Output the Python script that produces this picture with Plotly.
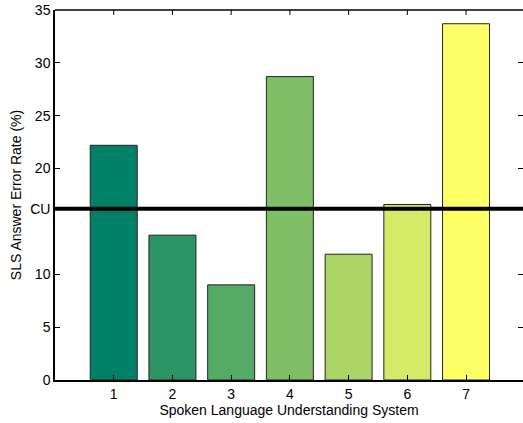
import plotly.graph_objects as go

systems = [1, 2, 3, 4, 5, 6, 7]
error_rates = [22.2, 13.7, 9.0, 28.7, 11.9, 16.6, 33.7]
bar_colors = ["#008066", "#2b9566", "#55aa66", "#80bf66", "#aad566", "#d5ea66", "#ffff66"]
cu_rate = 16.2
ytick_vals = [0, 5, 10, cu_rate, 20, 25, 30, 35]
ytick_text = ["0", "5", "10", "CU", "20", "25", "30", "35"]

font = dict(family="Liberation Sans, Arial, Helvetica, sans-serif", size=14, color="black")
x_range = [0, 7.97]
y_range = [0, 35]
fig_h, m_t, m_b = 423, 10, 43
plot_h = fig_h - m_t - m_b

fig = go.Figure()
fig.add_trace(go.Bar(
    x=systems, y=error_rates, width=0.8,
    marker=dict(color=bar_colors, line=dict(color="#222222", width=1)),
    showlegend=False, hoverinfo="skip",
))
# invisible trace so the right-hand tick axis renders
fig.add_trace(go.Scatter(x=[systems[0]], y=[0], yaxis="y2", mode="markers",
                         marker=dict(opacity=0), showlegend=False, hoverinfo="skip"))

# CU reference line
fig.add_shape(type="line", xref="paper", x0=0, x1=1, yref="y", y0=cu_rate, y1=cu_rate,
              line=dict(color="black", width=4), layer="above")
# top border and its inward ticks at the category positions
fig.add_shape(type="line", xref="paper", x0=0, x1=1, yref="paper", y0=1, y1=1,
              line=dict(color="black", width=1.5), layer="above")
for s in systems:
    fig.add_shape(type="line", xref="x", x0=s, x1=s, yref="paper", y0=1, y1=1 - 5 / plot_h,
                  line=dict(color="black", width=1), layer="above")

tick_style = dict(ticks="inside", ticklen=5, tickwidth=1, tickcolor="black",
                  showgrid=False, zeroline=False, automargin=False)

fig.update_layout(
    width=523, height=fig_h,
    margin=dict(l=55, r=0, t=m_t, b=m_b, autoexpand=False),
    paper_bgcolor="white", plot_bgcolor="white",
    font=font,
    hovermode=False,
    xaxis=dict(
        range=x_range, tickvals=systems, ticktext=[str(s) for s in systems],
        showline=True, linecolor="black", linewidth=1.5,
        title=dict(text="Spoken Language Understanding System", font=font, standoff=2),
        **tick_style,
    ),
    yaxis=dict(
        range=y_range, tickvals=ytick_vals, ticktext=ytick_text,
        showline=True, linecolor="black", linewidth=1.5,
        ticklabeloverflow="allow",
        title=dict(text="SLS Answer Error Rate (%)", font=font, standoff=5),
        **tick_style,
    ),
    yaxis2=dict(
        range=y_range, overlaying="y", side="right", tickvals=ytick_vals,
        showticklabels=False, showline=False,
        **tick_style,
    ),
)

# remove the default 8px body margin so the 523x423 figure fills the window exactly
fig.write_html(
    "out.html",
    config={"displayModeBar": False},
    post_script="document.body.style.margin='0';document.body.style.overflow='hidden';",
)
